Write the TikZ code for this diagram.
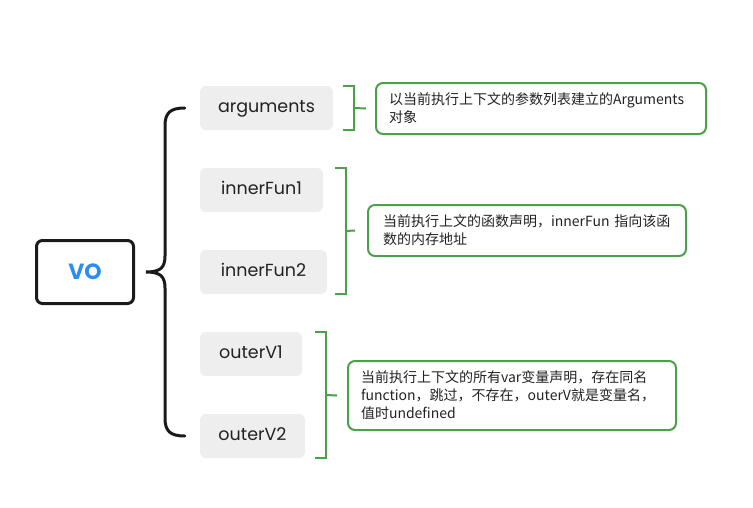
\documentclass[tikz,border=0pt]{standalone}
\usepackage{fontspec}
\usepackage{xcolor}
\usepackage{tikz}
\setmainfont{Poppins}
\newfontfamily\cjk{Noto Sans CJK SC}
\definecolor{braceblack}{RGB}{26,26,26}
\definecolor{voblue}{RGB}{45,140,240}
\definecolor{keygrey}{RGB}{238,238,238}
\definecolor{notegreen}{RGB}{76,160,76}
\definecolor{textdark}{RGB}{34,34,34}

\begin{document}
\begin{tikzpicture}[x=1pt, y=-1pt,
    keybox/.style={fill=keygrey, rounded corners=6pt, minimum height=44pt,
        inner sep=0pt, text=textdark, text height=12pt, text depth=3pt,
        font=\fontsize{17.5}{20}\selectfont},
    notebox/.style={draw=notegreen, line width=2pt, rounded corners=7pt, anchor=west,
        align=left, inner ysep=6pt, text=textdark,
        font=\cjk\fontsize{14}{18}\selectfont},
    bracket/.style={draw=notegreen, line width=2pt}]
        \useasboundingbox (0,0) rectangle (753,507);

        % Root box
        \node[draw=braceblack, line width=3pt, rounded corners=6pt, minimum width=97pt,
            minimum height=63pt, text=voblue, font=\fontsize{22}{24}\selectfont\bfseries]
            (vo) at (85,272) {VO};

        % Keys
        \node[keybox, minimum width=133pt] (arguments) at (266.5,108) {arguments};
        \node[keybox, minimum width=123pt] (innerfun1) at (261.5,190) {innerFun1};
        \node[keybox, minimum width=127pt] (innerfun2) at (263.5,272) {innerFun2};
        \node[keybox, minimum width=102pt] (outerv1) at (251,354) {outerV1};
        \node[keybox, minimum width=105pt] (outerv2) at (252.5,436) {outerV2};

        % Big brace
        \draw[braceblack, line width=3pt, line cap=round]
            ([xshift=-15pt]arguments.west) .. controls (170,108) and (165,113) .. (165,126)
            -- (165,256) .. controls (165,268) and (160,272) .. (146,272)
            .. controls (160,272) and (165,276) .. (165,288)
            -- (165,418) .. controls (165,431) and (170,436) .. ([xshift=-15pt]outerv2.west);

        % Notes
        \node[notebox, text width=304pt, inner xsep=13pt, minimum height=51pt] (note1) at (375,108.5)
            {以当前执行上下文的参数列表建立的Arguments\\对象};
        \node[notebox, text width=288pt, inner xsep=15pt, minimum height=51pt] (note2) at (367,230.5)
            {当前执行上文的函数声明，innerFun 指向该函\\数的内存地址};
        \node[notebox, text width=302pt, inner xsep=13pt, minimum height=69pt] (note3) at (347,395.5)
            {当前执行上下文的所有var变量声明，存在同名\\function，跳过，不存在，outerV就是变量名，\\值时undefined};

        % Green brackets
        \draw[bracket] (343,86) -- (354,86) -- (354,130) -- (343,130);
        \draw[bracket] (354,108) -- ([xshift=-9pt]note1.west);
        \draw[bracket] (335,168) -- (346,168) -- (346,294) -- (335,294);
        \draw[bracket] (346,231) -- ([xshift=-12pt]note2.west);
        \draw[bracket] (315,332) -- (326,332) -- (326,458) -- (315,458);
        \draw[bracket] (326,395) -- ([xshift=-10pt]note3.west);
    \end{tikzpicture}
\end{document}
